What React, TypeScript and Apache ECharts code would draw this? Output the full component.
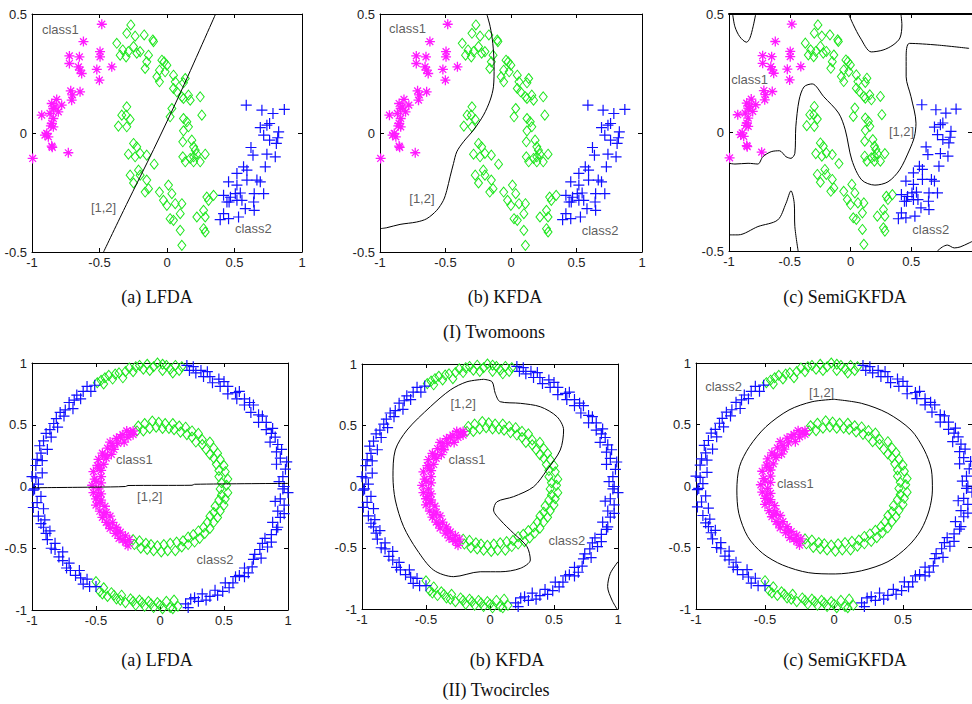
import React, { useEffect, useRef } from "react";
import * as echarts from "echarts";

// ---------- Two moons dataset ----------
const moonClass1: number[][] = [
  [-0.483, 0.457], [-0.619, 0.384], [-0.723, 0.324], [-0.649, 0.32], [-0.496, 0.342], [-0.496, 0.32],
  [-0.723, 0.292], [-0.656, 0.278], [-0.644, 0.264], [-0.632, 0.25], [-0.52, 0.267], [-0.409, 0.278],
  [-0.501, 0.222], [-0.713, 0.177], [-0.644, 0.173], [-0.706, 0.138], [-0.7, 0.16], [-0.817, 0.141],
  [-0.854, 0.124], [-0.78, 0.117], [-0.842, 0.103], [-0.83, 0.11], [-0.805, 0.089], [-0.928, 0.075],
  [-0.867, 0.082], [-0.842, 0.061], [-0.854, 0.04], [-0.842, 0.026], [-0.86, 0.03], [-0.891, -0.002],
  [-0.879, -0.016], [-0.904, -0.009], [-0.854, -0.055], [-0.85, -0.06], [-0.731, -0.083], [-0.995, -0.107],
];
const moonClass2: number[][] = [
  [0.587, 0.117], [0.703, 0.096], [0.785, 0.082], [0.869, 0.099], [0.691, 0.023], [0.74, 0.033],
  [0.76, 0.04], [0.827, 0.005], [0.716, -0.009], [0.76, -0.03], [0.82, -0.02], [0.81, -0.044],
  [0.622, -0.061], [0.637, -0.093], [0.74, -0.089], [0.802, -0.1], [0.567, -0.142], [0.592, -0.156],
  [0.518, -0.17], [0.728, -0.142], [0.666, -0.198], [0.691, -0.205], [0.592, -0.198], [0.456, -0.205],
  [0.518, -0.219], [0.716, -0.255], [0.646, -0.255], [0.543, -0.252], [0.419, -0.262], [0.506, -0.255],
  [0.47, -0.27], [0.444, -0.29], [0.46, -0.29], [0.518, -0.283], [0.58, -0.318], [0.646, -0.325],
  [0.419, -0.339], [0.456, -0.36], [0.53, -0.353], [0.394, -0.364], [0.555, -0.283], [0.642, -0.29],
];
const moonUnlabeled: number[][] = [
  [-0.268, 0.454], [-0.298, 0.419], [-0.236, 0.407], [-0.169, 0.412], [-0.105, 0.391], [-0.1, 0.384],
  [-0.372, 0.377], [-0.328, 0.349], [-0.286, 0.342], [-0.347, 0.327], [-0.303, 0.32], [-0.248, 0.363],
  [-0.224, 0.335], [-0.199, 0.342], [-0.15, 0.299], [-0.137, 0.327], [-0.162, 0.271], [-0.038, 0.306],
  [-0.021, 0.299], [-0.001, 0.285], [-0.056, 0.264], [-0.056, 0.215], [-0.075, 0.236], [-0.014, 0.257],
  [0.048, 0.243], [0.061, 0.215], [0.135, 0.229], [0.122, 0.211], [0.048, 0.187], [0.073, 0.173],
  [0.11, 0.152], [0.122, 0.145], [0.159, 0.159], [0.172, 0.138], [0.246, 0.152], [0.036, 0.103],
  [0.023, 0.068], [0.258, 0.075], [0.122, 0.061], [0.147, 0.047], [0.159, 0.026], [0.122, 0.009],
  [-0.298, 0.11], [-0.335, 0.075], [-0.303, 0.075], [-0.36, 0.029], [-0.298, 0.026], [-0.273, 0.057],
  [-0.248, -0.044], [-0.224, -0.058], [-0.286, -0.089], [-0.236, -0.1], [-0.199, -0.086], [-0.15, -0.093],
  [-0.095, -0.131], [-0.273, -0.177], [-0.211, -0.156], [-0.199, -0.177], [-0.15, -0.198], [-0.248, -0.21],
  [-0.137, -0.234], [-0.162, -0.248], [-0.056, -0.248], [-0.026, -0.283], [-0.001, -0.304], [0.011, -0.219],
  [0.036, -0.255], [0.061, -0.297], [0.023, -0.36], [0.048, -0.367], [0.098, -0.339], [0.11, -0.297],
  [0.098, -0.409], [0.11, -0.472], [0.221, -0.353], [0.283, -0.353], [0.271, -0.325], [0.271, -0.402],
  [0.283, -0.416], [0.295, -0.269], [0.345, -0.262], [0.308, -0.283], [0.117, -0.037], [0.184, -0.03],
  [0.197, -0.058], [0.209, -0.072], [0.221, -0.089], [0.197, -0.1], [0.117, -0.1], [0.135, -0.121],
  [0.172, -0.107], [0.283, -0.089], [0.246, -0.121], [0.197, -0.121],
];

// ---------- Two circles dataset ----------
const circleClass1: number[][] = [
  [-0.21, 0.45], [-0.21, 0.42], [-0.26, 0.45], [-0.25, 0.4], [-0.29, 0.42], [-0.28, 0.36], [-0.34, 0.39],
  [-0.33, 0.35], [-0.39, 0.36], [-0.36, 0.3], [-0.41, 0.31], [-0.38, 0.26], [-0.45, 0.27], [-0.42, 0.23],
  [-0.48, 0.22], [-0.44, 0.18], [-0.49, 0.17], [-0.46, 0.13], [-0.52, 0.12], [-0.46, 0.08], [-0.51, 0.06],
  [-0.46, 0.03], [-0.53, 0.01], [-0.48, -0.02], [-0.52, -0.05], [-0.46, -0.06], [-0.5, -0.1], [-0.46, -0.11],
  [-0.5, -0.15], [-0.43, -0.16], [-0.47, -0.2], [-0.42, -0.21], [-0.45, -0.25], [-0.39, -0.24], [-0.42, -0.29],
  [-0.37, -0.29], [-0.39, -0.34], [-0.34, -0.33], [-0.35, -0.38], [-0.31, -0.37], [-0.32, -0.42], [-0.27, -0.4],
  [-0.27, -0.45], [-0.24, -0.43], [-0.23, 0.44], [-0.31, 0.4], [-0.37, 0.33], [-0.43, 0.25], [-0.47, 0.15],
  [-0.5, 0.04], [-0.49, -0.08], [-0.47, -0.13], [-0.44, -0.23], [-0.4, -0.31], [-0.33, -0.36], [-0.29, -0.43],
  [-0.25, -0.48],
];
const circleClass2: number[][] = [
  [0.21, 0.98], [0.23, 0.94], [0.28, 0.92], [0.32, 0.94], [0.34, 0.89], [0.39, 0.89], [0.41, 0.84], [0.46, 0.87],
  [0.47, 0.81], [0.53, 0.81], [0.53, 0.75], [0.59, 0.76], [0.6, 0.71], [0.66, 0.71], [0.66, 0.66], [0.73, 0.66],
  [0.71, 0.6], [0.77, 0.58], [0.77, 0.52], [0.83, 0.52], [0.83, 0.46], [0.87, 0.43], [0.86, 0.36], [0.92, 0.34],
  [0.91, 0.28], [0.94, 0.23], [0.91, 0.18], [0.98, 0.14], [0.96, 0.08], [1.01, 0.04], [0.97, 0.0], [1.0, -0.05],
  [0.94, -0.1], [0.97, -0.15], [0.92, -0.2], [0.94, -0.25], [0.88, -0.29], [0.91, -0.35], [0.87, -0.39],
  [0.82, -0.42], [0.84, -0.49], [0.78, -0.51], [0.79, -0.58], [0.73, -0.59], [0.72, -0.65], [0.66, -0.66],
  [0.66, -0.73], [0.59, -0.73], [0.57, -0.78], [0.51, -0.78], [0.49, -0.85], [0.43, -0.84], [0.39, -0.89],
  [0.33, -0.87], [0.3, -0.93], [0.24, -0.91], [0.2, -0.95],
  [0.26, 0.97], [0.37, 0.93], [0.5, 0.85], [0.62, 0.77], [0.7, 0.68], [0.8, 0.57], [0.88, 0.47], [0.9, 0.4],
  [0.95, 0.3], [0.99, 0.2], [0.93, 0.04], [0.96, -0.02], [0.9, -0.12], [0.97, -0.22], [0.92, -0.33],
  [0.87, -0.45], [0.8, -0.46], [0.74, -0.55], [0.69, -0.7], [0.62, -0.72], [0.54, -0.82], [0.45, -0.88],
  [0.36, -0.92], [0.27, -0.9], [0.22, -0.98],
  [-0.51, 0.82], [-0.54, 0.77], [-0.6, 0.77], [-0.62, 0.71], [-0.67, 0.7], [-0.68, 0.63], [-0.74, 0.62],
  [-0.75, 0.57], [-0.81, 0.55], [-0.8, 0.48], [-0.86, 0.46], [-0.85, 0.4], [-0.91, 0.37], [-0.88, 0.3],
  [-0.93, 0.27], [-0.92, 0.21], [-0.97, 0.17], [-0.92, 0.11], [-0.97, 0.07], [-0.95, 0.02], [-0.99, -0.03],
  [-0.93, -0.08], [-0.96, -0.13], [-0.91, -0.18], [-0.95, -0.24], [-0.9, -0.27], [-0.91, -0.33], [-0.86, -0.36],
  [-0.88, -0.43], [-0.82, -0.46], [-0.82, -0.51], [-0.76, -0.53], [-0.76, -0.6], [-0.71, -0.62], [-0.7, -0.68],
  [-0.63, -0.68], [-0.62, -0.74], [-0.57, -0.75], [-0.55, -0.81], [-0.5, -0.81],
  [-0.57, 0.81], [-0.65, 0.74], [-0.71, 0.68], [-0.78, 0.6], [-0.83, 0.51], [-0.89, 0.43], [-0.94, 0.33],
  [-0.96, 0.22], [-1.0, 0.08], [-0.98, -0.02], [-0.99, -0.17], [-0.93, -0.3], [-0.89, -0.38], [-0.85, -0.5],
  [-0.79, -0.57], [-0.73, -0.66], [-0.66, -0.72], [-0.6, -0.79],
];
const circleUnlabeled: number[][] = [
  // outer ring, top
  [-0.49, 0.84], [-0.44, 0.83], [-0.43, 0.88], [-0.37, 0.87], [-0.35, 0.91], [-0.29, 0.88], [-0.27, 0.93],
  [-0.21, 0.93], [-0.19, 0.97], [-0.13, 0.95], [-0.1, 0.99], [-0.05, 0.97], [-0.02, 1.0], [0.02, 0.94],
  [0.05, 0.98], [0.08, 0.95], [0.12, 0.98], [0.15, 0.94], [-0.46, 0.86], [-0.4, 0.9], [-0.32, 0.92],
  [-0.24, 0.96], [-0.16, 0.98], [-0.08, 0.94], [0.02, 0.99], [0.1, 0.92], [0.17, 0.97],
  // outer ring, bottom
  [0.14, -0.97], [0.11, -0.92], [0.08, -0.98], [0.05, -0.93], [0.02, -0.99], [-0.02, -0.94], [-0.05, -0.98],
  [-0.09, -0.93], [-0.12, -0.97], [-0.16, -0.92], [-0.19, -0.96], [-0.23, -0.91], [-0.27, -0.94], [-0.3, -0.88],
  [-0.34, -0.91], [-0.38, -0.86], [-0.41, -0.89], [-0.44, -0.82], [-0.47, -0.85], [-0.5, -0.77], [0.1, -0.99],
  [0.0, -0.96], [-0.07, -0.95], [-0.14, -0.94], [-0.21, -0.93], [-0.31, -0.92], [-0.36, -0.88], [-0.45, -0.87],
  // inner ring, right half
  [-0.18, 0.45], [-0.17, 0.49], [-0.13, 0.45], [-0.12, 0.51], [-0.08, 0.47], [-0.06, 0.53], [-0.03, 0.48],
  [-0.01, 0.52], [0.02, 0.47], [0.04, 0.51], [0.07, 0.47], [0.1, 0.51], [0.11, 0.46], [0.15, 0.49], [0.16, 0.44],
  [0.2, 0.48], [0.21, 0.42], [0.25, 0.45], [0.25, 0.4], [0.3, 0.43], [0.28, 0.36], [0.33, 0.38], [0.33, 0.34],
  [0.39, 0.36], [0.36, 0.3], [0.42, 0.31], [0.39, 0.26], [0.45, 0.27], [0.42, 0.23], [0.47, 0.22], [0.44, 0.18],
  [0.5, 0.17], [0.46, 0.13], [0.51, 0.12], [0.46, 0.08], [0.53, 0.06], [0.48, 0.03], [0.52, 0.01], [0.47, -0.02],
  [0.53, -0.05], [0.48, -0.07], [0.51, -0.1], [0.46, -0.11], [0.5, -0.15], [0.43, -0.16], [0.47, -0.2],
  [0.42, -0.21], [0.45, -0.25], [0.39, -0.24], [0.42, -0.29], [0.37, -0.29], [0.39, -0.34], [0.34, -0.33],
  [0.35, -0.38], [0.3, -0.36], [0.31, -0.42], [0.26, -0.39], [0.27, -0.45], [0.22, -0.41], [0.22, -0.47],
  [0.18, -0.44], [0.17, -0.49], [0.13, -0.45], [0.12, -0.52], [0.08, -0.46], [0.06, -0.52], [0.03, -0.47],
  [0.01, -0.53], [-0.02, -0.48], [-0.05, -0.52], [-0.07, -0.47], [-0.1, -0.51], [-0.11, -0.46], [-0.15, -0.5],
  [-0.16, -0.44], [-0.2, -0.47], [-0.21, -0.43],
];

// ---------- Decision boundaries "[1,2]" ----------
const moonLfdaBoundary: number[][] = [[-0.47, -0.5], [-0.3, -0.3], [-0.1, -0.07], [0.1, 0.17], [0.36, 0.5]];
const moonKfdaBoundary: number[][] = [
  [-0.185, 0.5], [-0.159, 0.447], [-0.139, 0.377], [-0.129, 0.278], [-0.134, 0.194], [-0.159, 0.138],
  [-0.21, 0.075], [-0.287, 0.012], [-0.363, -0.037], [-0.414, -0.079], [-0.439, -0.128], [-0.465, -0.184],
  [-0.49, -0.241], [-0.516, -0.283], [-0.567, -0.325], [-0.643, -0.36], [-0.72, -0.374], [-0.847, -0.384],
  [-0.949, -0.398], [-1.0, -0.402],
];
const moonSemiBoundaryA: number[][] = [
  [-0.97, 0.5], [-0.951, 0.446], [-0.911, 0.404], [-0.856, 0.381], [-0.829, 0.397], [-0.802, 0.446], [-0.78, 0.5],
];
const moonSemiBoundaryB: number[][] = [
  [-0.016, 0.5], [0.024, 0.454], [0.081, 0.399], [0.171, 0.34], [0.268, 0.348], [0.35, 0.369], [0.407, 0.399],
  [0.423, 0.454], [0.415, 0.5],
];
const moonSemiBoundaryC: number[][] = [
  [0.976, 0.355], [0.715, 0.369], [0.485, 0.376], [0.458, 0.32], [0.458, 0.235], [0.498, 0.151], [0.539, 0.039],
  [0.526, -0.018], [0.485, -0.074], [0.404, -0.158], [0.309, -0.208], [0.201, -0.222], [0.092, -0.2],
  [0.011, -0.116], [-0.043, 0.011], [-0.098, 0.082], [-0.22, 0.151], [-0.315, 0.205], [-0.382, 0.193],
  [-0.423, 0.137], [-0.45, 0.024], [-0.458, -0.088], [-0.49, -0.109], [-0.531, -0.102], [-0.585, -0.077],
  [-0.653, -0.081], [-0.721, -0.102], [-0.762, -0.133], [-0.843, -0.13], [-0.951, -0.133], [-1.0, -0.13],
];
const moonSemiBoundaryD: number[][] = [
  [-1.0, -0.432], [-0.924, -0.432], [-0.762, -0.397], [-0.599, -0.369], [-0.531, -0.299], [-0.49, -0.246],
  [-0.463, -0.299], [-0.458, -0.397], [-0.431, -0.5],
];
const moonSemiBoundaryE: number[][] = [
  [0.715, -0.5], [0.756, -0.483], [0.797, -0.475], [0.854, -0.487], [0.902, -0.483], [0.976, -0.466], [1.0, -0.46],
];
const circleLfdaBoundary: number[][] = [
  [-1.0, -0.01], [-0.5, -0.005], [-0.27, 0.0], [-0.25, 0.008], [0.25, 0.01], [0.27, 0.018], [1.0, 0.025],
];
const circleKfdaBoundary: number[][] = [
  [-0.05, 0.875], [0.016, 0.855], [0.041, 0.761], [0.08, 0.692], [0.237, 0.679], [0.393, 0.651], [0.523, 0.57],
  [0.575, 0.461], [0.549, 0.298], [0.445, 0.135], [0.341, -0.002], [0.184, -0.083], [0.055, -0.124],
  [0.028, -0.192], [0.08, -0.273], [0.184, -0.382], [0.289, -0.491], [0.315, -0.6], [0.237, -0.668],
  [0.08, -0.696], [-0.076, -0.696], [-0.284, -0.736], [-0.441, -0.682], [-0.57, -0.518], [-0.675, -0.328],
  [-0.74, -0.11], [-0.758, 0.08], [-0.74, 0.298], [-0.648, 0.461], [-0.466, 0.651], [-0.31, 0.788],
  [-0.18, 0.855], [-0.05, 0.875],
];
const circleKfdaBoundary2: number[][] = [
  [1.0, -0.614], [0.94, -0.709], [0.919, -0.818], [0.953, -0.927], [0.992, -1.0],
];
const circleSemiBoundary: number[][] = [
  [0.0, 0.705], [0.2, 0.672], [0.39, 0.591], [0.558, 0.455], [0.654, 0.293], [0.706, 0.13], [0.713, -0.033],
  [0.69, -0.195], [0.63, -0.358], [0.534, -0.493], [0.391, -0.615], [0.2, -0.689], [0.009, -0.715],
  [-0.183, -0.705], [-0.374, -0.642], [-0.518, -0.547], [-0.625, -0.412], [-0.69, -0.222], [-0.704, -0.033],
  [-0.685, 0.157], [-0.613, 0.32], [-0.493, 0.482], [-0.326, 0.618], [-0.159, 0.685], [0.0, 0.705],
];

// ---------- Text ----------
const panelCaptions = ["(a) LFDA", "(b) KFDA", "(c) SemiGKFDA"];
const rowTitles = ["(I) Twomoons", "(II) Twocircles"];
const moonYRange = [-0.5, 0.5];
const circleYRange = [-1, 1];
const xRange = [-1, 1];
const tickStep = 0.5;

// annotation texts per panel: [text, x, y] in data units
const panelNotes: [string, number, number][][] = [
  [["class1", -0.79, 0.435], ["[1,2]", -0.47, -0.315], ["class2", 0.64, -0.4]],
  [["class1", -0.79, 0.44], ["[1,2]", -0.68, -0.274], ["class2", 0.68, -0.408]],
  [["class1", -0.83, 0.225], ["[1,2]", 0.42, 0.006], ["class2", 0.66, -0.41]],
  [["class1", -0.2, 0.215], ["[1,2]", -0.08, -0.083], ["class2", 0.43, -0.595]],
  [["[1,2]", -0.21, 0.68], ["class1", -0.18, 0.22], ["class2", 0.6, -0.44]],
  [["class2", -0.8, 0.81], ["[1,2]", -0.09, 0.76], ["class1", -0.28, 0.02]],
];

const GRIDS = [
  { left: 32, top: 14, width: 270, height: 238 },
  { left: 380, top: 14, width: 262, height: 238 },
  { left: 729, top: 14, width: 246, height: 237 },
  { left: 32, top: 363, width: 256, height: 247 },
  { left: 362, top: 364, width: 256, height: 245 },
  { left: 696, top: 363, width: 279, height: 246 },
];

const ASTERISK = "path://M5,0L5,10M0,5L10,5M1.6,1.6L8.4,8.4M8.4,1.6L1.6,8.4";
const PLUS = "path://M5,0L5,10M0,5L10,5";
const DIAMOND = "path://M5,0L10,6L5,12L0,6Z";

export default function App() {
  const ref = useRef<HTMLDivElement>(null);
  useEffect(() => {
    if (!ref.current) return;
    const chart = echarts.init(ref.current, undefined, { renderer: "svg" });

    const xAxis: any[] = [];
    const yAxis: any[] = [];
    const series: any[] = [];
    const axisCommon = {
      type: "value",
      interval: tickStep,
      splitLine: { show: false },
      axisLine: { show: true, onZero: false, lineStyle: { color: "#000", width: 1 } },
      axisTick: { show: true, inside: true, length: 4, lineStyle: { color: "#000" } },
    };
    const labelStyle = { color: "#222", fontSize: 13, fontFamily: "Liberation Sans", margin: 4 };

    GRIDS.forEach((g, i) => {
      const yr = i < 3 ? moonYRange : circleYRange;
      const cutRight = i === 2 || i === 5;
      xAxis.push({
        ...axisCommon, gridIndex: i, position: "bottom", min: xRange[0], max: xRange[1],
        axisLabel: { ...labelStyle, showMaxLabel: !cutRight },
      });
      xAxis.push({
        ...axisCommon, gridIndex: i, position: "top", min: xRange[0], max: xRange[1], axisLabel: { show: false },
        axisLine: { show: true, onZero: false, lineStyle: { color: "#000", width: i === 2 ? 2 : 1 } },
      });
      yAxis.push({ ...axisCommon, gridIndex: i, position: "left", min: yr[0], max: yr[1], axisLabel: { ...labelStyle, margin: 5 } });
      yAxis.push({ ...axisCommon, gridIndex: i, position: "right", min: yr[0], max: yr[1], axisLabel: { show: false } });
    });

    const scatter = (i: number, data: number[][], symbol: string, size: any, color: string, bw: number) => ({
      type: "scatter",
      xAxisIndex: i * 2,
      yAxisIndex: i * 2,
      data,
      symbol,
      symbolSize: size,
      silent: true,
      itemStyle: { color: "rgba(0,0,0,0)", borderColor: color, borderWidth: bw, opacity: 1 },
      z: 2,
    });
    const line = (i: number, data: number[][]) => ({
      type: "line",
      xAxisIndex: i * 2,
      yAxisIndex: i * 2,
      data,
      showSymbol: false,
      symbol: "none",
      silent: true,
      smooth: 0.3,
      lineStyle: { color: "#000", width: 1 },
      z: 3,
    });

    const magenta = "#ff1aff";
    const blue = "#1010ff";
    const green = "#1ee61e";

    const moonBoundaries = [[moonLfdaBoundary], [moonKfdaBoundary], [moonSemiBoundaryA, moonSemiBoundaryB, moonSemiBoundaryC, moonSemiBoundaryD, moonSemiBoundaryE]];
    const circleBoundaries = [[circleLfdaBoundary], [circleKfdaBoundary, circleKfdaBoundary2], [circleSemiBoundary]];

    for (let i = 0; i < 6; i++) {
      const moons = i < 3;
      const unl = moons ? moonUnlabeled : circleUnlabeled;
      const c1 = moons ? moonClass1 : circleClass1;
      const c2 = moons ? moonClass2 : circleClass2;
      series.push(scatter(i, unl, DIAMOND, [8, 10], green, 1));
      series.push(scatter(i, c2, PLUS, 11, blue, 1.2));
      series.push(scatter(i, c1, ASTERISK, 10, magenta, 1.3));
      const bs = moons ? moonBoundaries[i] : circleBoundaries[i - 3];
      bs.forEach((b) => series.push(line(i, b)));
      series.push({
        type: "scatter",
        xAxisIndex: i * 2,
        yAxisIndex: i * 2,
        silent: true,
        symbolSize: 0,
        z: 5,
        data: panelNotes[i].map((n) => ({ value: [n[1], n[2]], name: n[0] })),
        label: {
          show: true,
          position: "inside",
          formatter: (p: any) => p.name,
          color: "#333",
          fontSize: 13,
          fontFamily: "Liberation Sans",
        },
      });
    }

    const capStyle = (text: string) => ({
      text,
      fontSize: 18,
      fontFamily: "Liberation Serif",
      fill: "#111",
      align: "center",
      verticalAlign: "middle",
    });
    const captionX = [[157, 505, 845], [157, 507, 845]];
    const captionY = [297, 660];
    const titleXY = [[494, 332], [496, 690]];
    const graphic: any[] = [];
    for (let r = 0; r < 2; r++) {
      panelCaptions.forEach((c, k) => {
        graphic.push({ type: "text", x: captionX[r][k], y: captionY[r], silent: true, style: capStyle(c) });
      });
      graphic.push({ type: "text", x: titleXY[r][0], y: titleXY[r][1], silent: true, style: capStyle(rowTitles[r]) });
    }

    chart.setOption({
      animation: false,
      backgroundColor: "#ffffff",
      grid: GRIDS.map((g) => ({ ...g, containLabel: false })),
      xAxis,
      yAxis,
      series,
      graphic,
    });
    return () => chart.dispose();
  }, []);
  return (
    <div
      ref={ref}
      style={{ position: "fixed", left: 0, top: 0, width: 972, height: 704, background: "#fff" }}
    />
  );
}
